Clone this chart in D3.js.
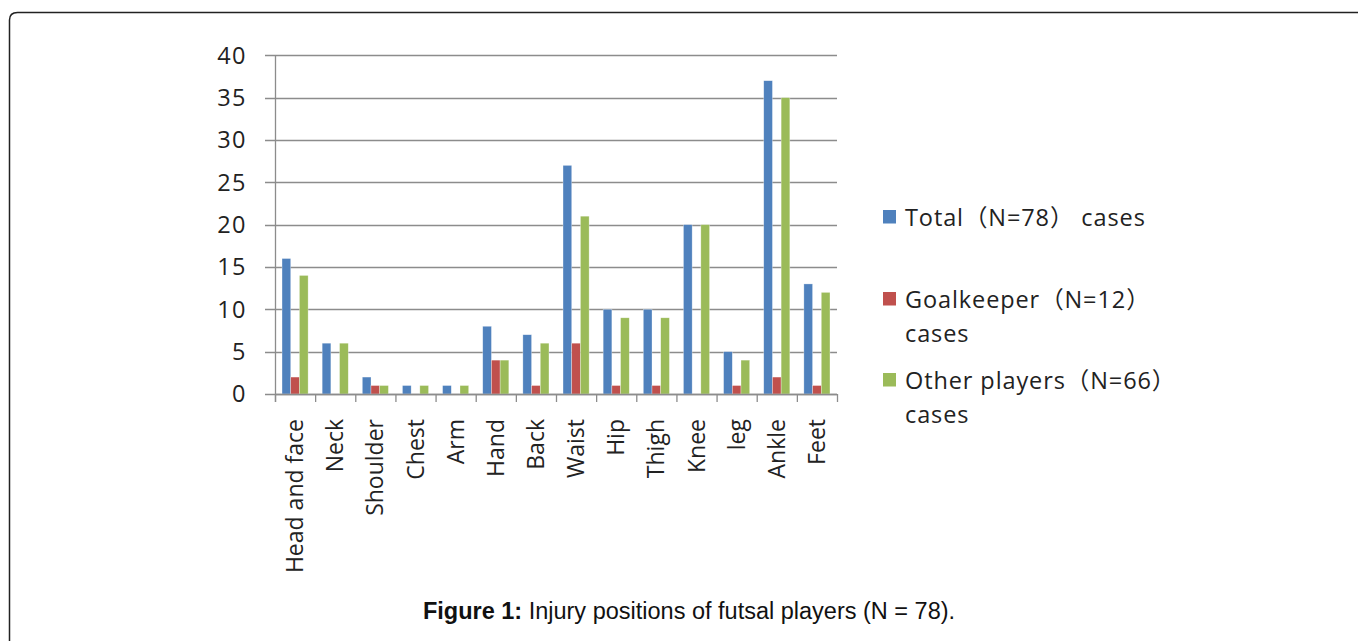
<!DOCTYPE html>
<html><head><meta charset="utf-8">
<script src="https://cdn.jsdelivr.net/npm/d3@7/dist/d3.min.js"></script>
<style>body{margin:0;background:#fff;}svg{display:block;}</style>
</head><body>
<svg id="c" width="1358" height="641"></svg>
<script>
const categories = ["Head and face","Neck","Shoulder","Chest","Arm","Hand","Back","Waist","Hip","Thigh","Knee","leg","Ankle","Feet"];
const totalValues = [16,6,2,1,1,8,7,27,10,10,20,5,37,13];
const goalkeeperValues = [2,0,1,0,0,4,1,6,1,1,0,1,2,1];
const otherValues = [14,6,1,1,1,4,6,21,9,9,20,4,35,12];
const legendLines = [["Total（N=78） cases"],["Goalkeeper（N=12）","cases"],["Other players（N=66）","cases"]];
const yTicks = [0,5,10,15,20,25,30,35,40];
const colors = ["#4F81BD","#C0504D","#9BBB59"];

(function(){
const svg = d3.select("#c");
const font = "'Open Sans','Noto Sans CJK SC',sans-serif";

svg.append("path").attr("d","M9.5,660 L9.5,20 Q9.5,12.5 17.5,12.5 L1370,12.5")
  .attr("fill","none").attr("stroke","#222").attr("stroke-width",1.5);

const pL=275, pR=837, pT=55.3, pB=394;
const x = d3.scaleBand().domain(categories).range([pL,pR]).paddingInner(0.35).paddingOuter(0.175);
const xs = d3.scaleBand().domain([0,1,2]).range([0,x.bandwidth()]);
const y = d3.scaleLinear().domain([0,40]).range([pB,pT]);

const g = svg.append("g");
g.selectAll("line.grid").data(yTicks).join("line")
  .attr("x1",265).attr("x2",pR).attr("y1",d=>Math.round(y(d))+0.5).attr("y2",d=>Math.round(y(d))+0.5)
  .attr("stroke","#8c8c8c").attr("stroke-width",1.3);
g.selectAll("text.yl").data(yTicks).join("text")
  .attr("x",247).attr("y",d=>y(d)).attr("dy","0.36em").attr("text-anchor","end")
  .attr("font-family",font).attr("font-size",23.5).attr("letter-spacing","1.5px").attr("fill","#222").text(d=>d);

const series=[totalValues,goalkeeperValues,otherValues];
series.forEach((vals,si)=>{
  g.selectAll("rect.s"+si).data(vals.map((v,i)=>({v,c:categories[i]}))).join("rect")
    .attr("class","s"+si)
    .attr("x",d=>x(d.c)+xs(si)).attr("width",xs.bandwidth())
    .attr("y",d=>y(d.v)).attr("height",d=>y(0)-y(d.v))
    .attr("fill",colors[si]).attr("stroke","#fff").attr("stroke-opacity",0.5).attr("stroke-width",0.6);
});

g.append("line").attr("x1",pL+0.5).attr("x2",pL+0.5).attr("y1",pT).attr("y2",pB+8).attr("stroke","#8c8c8c").attr("stroke-width",1.3);
g.append("line").attr("x1",pL).attr("x2",pR).attr("y1",pB+0.5).attr("y2",pB+0.5).attr("stroke","#8c8c8c").attr("stroke-width",1.3);
const step = (pR-pL)/categories.length;
g.selectAll("line.xt").data(d3.range(categories.length+1)).join("line")
  .attr("x1",i=>pL+i*step+0.5).attr("x2",i=>pL+i*step+0.5).attr("y1",pB).attr("y2",pB+8)
  .attr("stroke","#8c8c8c").attr("stroke-width",1.3);

g.selectAll("text.xl").data(categories).join("text")
  .attr("transform",d=>`translate(${x(d)+x.bandwidth()/2+8},419) rotate(-90)`)
  .attr("text-anchor","end").attr("font-family",font).attr("font-size",23).attr("fill","#222").text(d=>d);

const legBase=[226,308,389];
legendLines.forEach((lines,i)=>{
  svg.append("rect").attr("x",883).attr("y",legBase[i]-16).attr("width",13).attr("height",13.5).attr("fill",colors[i]);
  const t = svg.append("text").attr("x",905).attr("y",legBase[i])
    .attr("font-family",font).attr("font-size",23.5).attr("letter-spacing","0.9px").attr("fill","#222");
  lines.forEach((l,j)=>t.append("tspan").attr("x",905).attr("y",legBase[i]+j*34).text(l));
});

const cap = svg.append("text").attr("x",689).attr("y",619).attr("text-anchor","middle")
  .attr("font-family","'Liberation Sans',Arial,sans-serif").attr("font-size",23.5).attr("fill","#111");
cap.append("tspan").attr("font-weight","bold").text("Figure 1:");
cap.append("tspan").text(" Injury positions of futsal players (N = 78).");
})();
</script>
</body></html>
